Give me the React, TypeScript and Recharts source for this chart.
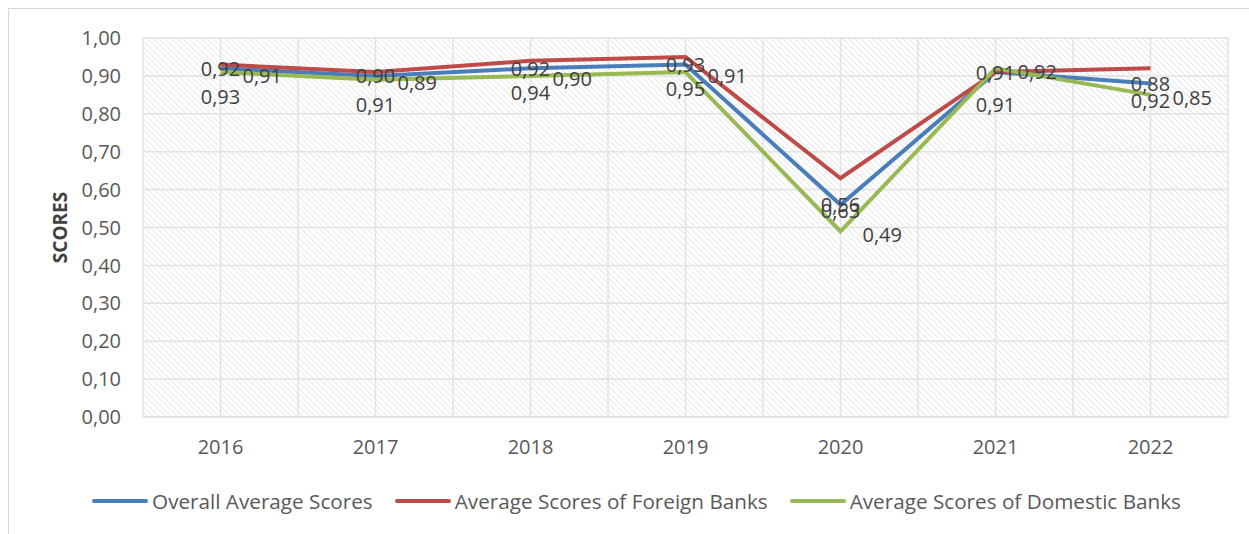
import React from "react";
import { LineChart, Line, XAxis, YAxis, CartesianGrid, Legend } from "recharts";

const years = ["2016", "2017", "2018", "2019", "2020", "2021", "2022"];
const overallScores = [0.92, 0.9, 0.92, 0.93, 0.56, 0.91, 0.88];
const foreignScores = [0.93, 0.91, 0.94, 0.95, 0.63, 0.91, 0.92];
const domesticScores = [0.91, 0.89, 0.9, 0.91, 0.49, 0.92, 0.85];
const yTicks = [0, 0.1, 0.2, 0.3, 0.4, 0.5, 0.6, 0.7, 0.8, 0.9, 1];
const seriesOrder = ["Overall Average Scores", "Average Scores of Foreign Banks", "Average Scores of Domestic Banks"];

const data = years.map((year, i) => ({
  year,
  overall: overallScores[i],
  foreign: foreignScores[i],
  domestic: domesticScores[i],
}));

const FONT = "'Open Sans', 'Noto Sans', sans-serif";
const fmt = (v: number) => v.toFixed(2).replace(".", ",");

const labelStyle = { fontFamily: FONT, fontSize: 20, fill: "#404040" };

// Excel-style data label positions: center, below, right
const centerLabel = (p: any) => (
  <text key={`c${p.index}`} x={p.x} y={p.y} textAnchor="middle" dominantBaseline="central" style={labelStyle}>
    {fmt(p.value)}
  </text>
);
const belowLabel = (p: any) => (
  <text key={`b${p.index}`} x={p.x} y={p.y + 32} textAnchor="middle" dominantBaseline="central" style={labelStyle}>
    {fmt(p.value)}
  </text>
);
const rightLabel = (p: any) => (
  <text key={`r${p.index}`} x={p.x + 22} y={p.y + 3} textAnchor="start" dominantBaseline="central" style={labelStyle}>
    {fmt(p.value)}
  </text>
);

const renderLegend = (props: any) => {
  const items = [...props.payload].sort(
    (a: any, b: any) => seriesOrder.indexOf(a.value) - seriesOrder.indexOf(b.value)
  );
  return (
    <div
      style={{
        display: "flex",
        justifyContent: "center",
        alignItems: "center",
        height: 40,
        paddingLeft: 36,
        boxSizing: "border-box",
        fontFamily: FONT,
        fontSize: 20.7,
        color: "#595959",
      }}
    >
      {items.map((item: any) => (
        <div key={item.value} style={{ display: "flex", alignItems: "center", margin: "0 11px" }}>
          <div style={{ width: 56, height: 4, borderRadius: 2, background: item.color, marginRight: 4 }} />
          <span>{item.value}</span>
        </div>
      ))}
    </div>
  );
};

export default function App() {
  return (
    <div
      style={{
        position: "absolute",
        left: 8,
        top: 8,
        width: 1240,
        height: 525,
        borderTop: "1px solid #d9d9d9",
        borderLeft: "1px solid #d9d9d9",
        background: "#fff",
        overflow: "hidden",
      }}
    >
      <LineChart width={1240} height={525} data={data} margin={{ top: 29, right: 21, bottom: 27, left: 0 }}>
        <defs>
          <pattern id="hatch" width="4.24" height="4.24" patternUnits="userSpaceOnUse" patternTransform="rotate(-45)">
            <line x1="0" y1="0" x2="0" y2="4.24" stroke="#d0d0d0" strokeWidth="1" />
          </pattern>
        </defs>
        <CartesianGrid
          fill="url(#hatch)"
          fillOpacity={1}
          stroke="#e2e2e2"
          strokeWidth={1.5}
          verticalCoordinatesGenerator={({ offset }: any) =>
            Array.from({ length: 15 }, (_, i) => offset.left + (i * offset.width) / 14)
          }
        />
        <XAxis
          dataKey="year"
          scale="band"
          height={50}
          axisLine={{ stroke: "#d9d9d9" }}
          tickLine={false}
          tickMargin={17}
          tick={{ fontFamily: FONT, fontSize: 20, fill: "#595959" }}
        />
        <YAxis
          width={134}
          domain={[0, 1]}
          ticks={yTicks}
          tickFormatter={fmt}
          axisLine={false}
          tickLine={false}
          tickMargin={16}
          tick={{ fontFamily: FONT, fontSize: 20, fill: "#595959" }}
          label={{
            value: "SCORES",
            angle: -90,
            position: "insideLeft",
            offset: 51,
            style: { textAnchor: "middle", fontFamily: FONT, fontSize: 19, fontWeight: 700, fill: "#404040" },
          }}
        />
        <Legend verticalAlign="bottom" content={renderLegend} wrapperStyle={{ bottom: 13 }} />
        <Line
          dataKey="overall"
          name="Overall Average Scores"
          stroke="#4a7ebb"
          strokeWidth={4}
          dot={false}
          label={centerLabel}
          isAnimationActive={false}
        />
        <Line
          dataKey="foreign"
          name="Average Scores of Foreign Banks"
          stroke="#be4b48"
          strokeWidth={4}
          dot={false}
          label={belowLabel}
          isAnimationActive={false}
        />
        <Line
          dataKey="domestic"
          name="Average Scores of Domestic Banks"
          stroke="#98b954"
          strokeWidth={4}
          dot={false}
          label={rightLabel}
          isAnimationActive={false}
        />
      </LineChart>
    </div>
  );
}
